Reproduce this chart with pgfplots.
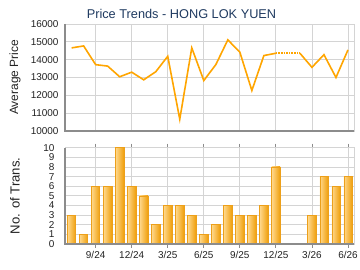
\documentclass[border=0pt]{standalone}
\usepackage{fontspec}
\setmainfont{Liberation Sans}
\usepackage{pgfplots}
\pgfplotsset{compat=1.18}
\definecolor{linecol}{HTML}{FFA500}
\definecolor{gridcol}{HTML}{D4D4D4}
\definecolor{axcol}{HTML}{8C8C8C}
\definecolor{titlecol}{HTML}{1F3A60}
\definecolor{barlight}{HTML}{FFD88C}
\definecolor{bardark}{HTML}{EF9F0C}
\definecolor{baredge}{HTML}{EDA01A}
\definecolor{ticktext}{HTML}{222222}
\begin{document}
\begin{tikzpicture}
\useasboundingbox (0,0) rectangle (360bp,270bp);
\pgfplotsset{
 common/.style={
  scale only axis, width=289bp,
  xmin=-0.55, xmax=23.5,
  xtick={2,5,8,11,14,17,20,23},
  grid=major,
  major grid style={gridcol, line width=0.8bp},
  axis line style={gridcol, line width=0.8bp},
  ytick style={draw=none},
  xtick style={draw=none},
  /pgf/number format/assume math mode=true,
  ticklabel style={font=\fontsize{10}{12}\selectfont, text=ticktext},
  yticklabel style={/pgf/number format/1000 sep={}, xshift=-3bp},
  y label style={at={(axis description cs:-0.173,0.5)}, anchor=center, font=\fontsize{12}{14}\selectfont, text=ticktext},
  after end axis/.code={\draw[axcol, line width=1.5bp] (rel axis cs:0,1) -- (rel axis cs:0,0) -- (rel axis cs:1,0);},
 },
 barsty/.style={ybar, bar width=8.3bp, draw=baredge, line width=0.6bp, left color=barlight, right color=bardark},
}
\begin{axis}[common, at={(65bp,139bp)}, anchor=south west, height=107bp,
 ymin=10000, ymax=16000, ytick={10000,11000,12000,13000,14000,15000,16000},
 scaled y ticks=false, xticklabels={}, ylabel={Average Price}]
\addplot[linecol, line width=1.6bp] coordinates {
(0,14660)(1,14770)(2,13720)(3,13640)(4,13040)(5,13300)(6,12870)(7,13320)
(8,14190)(9,10660)(10,14660)(11,12830)(12,13720)(13,15110)(14,14420)
(15,12270)(16,14230)(17,14360)};
\addplot[linecol, line width=1.6bp, densely dotted] coordinates {(17,14360)(19,14360)};
\addplot[linecol, line width=1.6bp] coordinates {
(19,14360)(20,13570)(21,14280)(22,13000)(23,14550)};
\end{axis}
\begin{axis}[common, at={(65bp,26bp)}, anchor=south west, height=96.3bp,
 ymin=0, ymax=10, ytick={0,1,2,3,4,5,6,7,8,9,10},
 xticklabels={9/24,12/24,3/25,6/25,9/25,12/25,3/26,6/26},
 xtick style={draw=axcol, line width=0.8bp}, tick align=outside, major tick length=4bp,
 y label style={font=\fontsize{13.2}{15}\selectfont},
 ylabel={No. of Trans.}]
\addplot[barsty] coordinates {(0,3)};
\addplot[barsty] coordinates {(1,1)};
\addplot[barsty] coordinates {(2,6)};
\addplot[barsty] coordinates {(3,6)};
\addplot[barsty] coordinates {(4,10)};
\addplot[barsty] coordinates {(5,6)};
\addplot[barsty] coordinates {(6,5)};
\addplot[barsty] coordinates {(7,2)};
\addplot[barsty] coordinates {(8,4)};
\addplot[barsty] coordinates {(9,4)};
\addplot[barsty] coordinates {(10,3)};
\addplot[barsty] coordinates {(11,1)};
\addplot[barsty] coordinates {(12,2)};
\addplot[barsty] coordinates {(13,4)};
\addplot[barsty] coordinates {(14,3)};
\addplot[barsty] coordinates {(15,3)};
\addplot[barsty] coordinates {(16,4)};
\addplot[barsty] coordinates {(17,8)};
\addplot[barsty] coordinates {(20,3)};
\addplot[barsty] coordinates {(21,7)};
\addplot[barsty] coordinates {(22,6)};
\addplot[barsty] coordinates {(23,7)};
\end{axis}
\node[font=\fontsize{12.8}{15}\selectfont, text=titlecol] at (181.5bp,256bp) {Price Trends - HONG LOK YUEN};
\end{tikzpicture}
\end{document}
